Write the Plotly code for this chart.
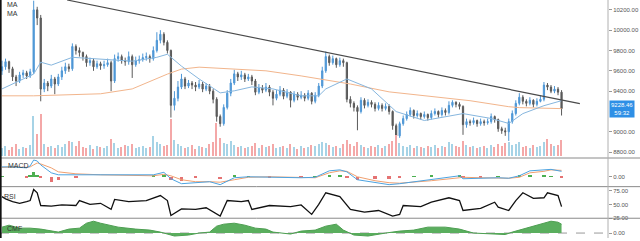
import plotly.graph_objects as go

# ---------------- data ----------------
first_open = 9600
closes = [
    9640, 9690, 9620, 9540, 9500, 9560, 9580, 9550, 9590, 10200,
    10120, 9420, 9480, 9450, 9520, 9470, 9540, 9600, 9640, 9620,
    9840, 9800, 9780, 9740, 9680, 9700, 9640, 9670, 9650, 9660,
    9680, 9500, 9720, 9740, 9700, 9690, 9740, 9660, 9700, 9710,
    9730, 9740, 9720, 9800, 9900, 9960, 9880, 9800, 9260, 9330,
    9440, 9520, 9450, 9480, 9460, 9440, 9470, 9420, 9450, 9400,
    9320, 9150, 9080, 9240, 9380, 9480, 9570, 9540, 9560, 9520,
    9540, 9500, 9390, 9430, 9410, 9440, 9390, 9330, 9370, 9410,
    9350, 9390, 9310, 9370, 9340, 9360, 9330, 9380, 9300, 9360,
    9450, 9600, 9740, 9680, 9720, 9660, 9700, 9680, 9320, 9280,
    9240, 9200, 9310, 9260, 9290, 9270, 9230, 9260, 9230, 9250,
    9200, 9060, 8960, 9080, 9130, 9170, 9210, 9160, 9180, 9150,
    9170, 9140, 9180, 9200, 9170, 9210, 9190, 9260, 9290, 9270,
    9250, 9070, 9100, 9090, 9110, 9080, 9100, 9090, 9100, 9150,
    9120, 9030, 9010, 9000, 9100, 9180, 9280, 9340, 9300, 9280,
    9310, 9270, 9300, 9320, 9460, 9440, 9400, 9420, 9390, 9228.46,
]
highs = [
    9700, 9720, 9700, 9640, 9560, 9590, 9610, 9600, 9620, 10290,
    10230, 10150, 9520, 9500, 9560, 9540, 9570, 9640, 9680, 9670,
    9870, 9860, 9830, 9790, 9760, 9730, 9720, 9700, 9690, 9700,
    9720, 9700, 9760, 9780, 9760, 9730, 9790, 9760, 9740, 9750,
    9770, 9780, 9760, 9840, 9980, 10000, 9980, 9900, 9810, 9400,
    9500, 9570, 9540, 9510, 9500, 9490, 9510, 9490, 9480, 9470,
    9420, 9340, 9170, 9270, 9410, 9520, 9610, 9590, 9600, 9580,
    9570, 9560, 9520, 9470, 9460, 9480, 9460, 9410, 9410, 9450,
    9430, 9420, 9400, 9400, 9390, 9400, 9380, 9410, 9390, 9390,
    9480, 9640, 9790, 9760, 9750, 9730, 9730, 9720, 9690, 9350,
    9300, 9260, 9340, 9330, 9320, 9310, 9290, 9290, 9280, 9280,
    9270, 9210, 9080, 9100, 9160, 9200, 9240, 9220, 9210, 9190,
    9200, 9180, 9210, 9230, 9210, 9240, 9230, 9300, 9310, 9300,
    9290, 9260, 9130, 9120, 9140, 9120, 9130, 9120, 9130, 9180,
    9160, 9130, 9050, 9040, 9130, 9210, 9310, 9380, 9360, 9320,
    9340, 9320, 9330, 9360, 9490, 9480, 9460, 9450, 9440, 9410,
]
lows = [
    9560, 9610, 9580, 9500, 9450, 9480, 9530, 9520, 9530, 9570,
    10050, 9300, 9390, 9400, 9430, 9370, 9450, 9510, 9570, 9590,
    9600, 9760, 9740, 9700, 9640, 9650, 9600, 9620, 9610, 9620,
    9640, 9400, 9480, 9690, 9670, 9650, 9660, 9530, 9640, 9670,
    9690, 9700, 9680, 9700, 9780, 9870, 9850, 9770, 9140, 9210,
    9300, 9420, 9420, 9430, 9420, 9400, 9420, 9390, 9400, 9370,
    9280, 9100, 9050, 9060, 9220, 9350, 9460, 9500, 9510, 9490,
    9500, 9460, 9360, 9370, 9380, 9390, 9350, 9260, 9310, 9350,
    9320, 9330, 9240, 9290, 9310, 9320, 9300, 9310, 9270, 9280,
    9340, 9430, 9580, 9650, 9660, 9630, 9640, 9640, 9290, 9240,
    9200, 9015, 9180, 9230, 9240, 9240, 9200, 9210, 9200, 9210,
    9170, 9020, 8890, 8940, 9060, 9110, 9150, 9130, 9140, 9120,
    9130, 9110, 9120, 9160, 9140, 9150, 9160, 9170, 9240, 9240,
    9220, 8970, 9040, 9060, 9070, 9050, 9060, 9060, 9070, 9080,
    9090, 9000, 8980, 8960, 8910, 9080, 9160, 9260, 9270, 9250,
    9260, 9240, 9250, 9290, 9300, 9410, 9380, 9380, 9360, 9160,
]
volumes = [
    8, 10, 6, 9, 12, 7, 9, 8, 11, 41,
    22, 43, 12, 9, 10, 8, 11, 9, 12, 15,
    14, 10, 15, 9, 8, 11, 7, 10, 9, 8,
    10, 17, 13, 8, 9, 11, 10, 12, 8, 9,
    10, 8, 9, 20, 14, 12, 10, 11, 38, 16,
    12, 10, 8, 9, 11, 7, 10, 9, 8, 12,
    14, 33, 18, 13, 12, 15, 11, 9, 10, 8,
    9, 10, 13, 8, 11, 9, 10, 12, 8, 9,
    10, 8, 12, 9, 7, 10, 8, 9, 11, 10,
    12, 14, 13, 11, 9, 10, 8, 12, 16, 12,
    10, 14, 11, 9, 8, 10, 9, 11, 8, 10,
    12, 15, 21, 13, 10, 9, 11, 8, 10, 9,
    8, 10, 9, 11, 8, 10, 9, 14, 12, 10,
    9, 15, 11, 9, 10, 8, 9, 10, 8, 11,
    9, 12, 10, 13, 14, 11, 12, 14, 9, 10,
    8, 11, 9, 10, 14, 17, 12, 10, 11, 16,
]

ma_fast_idx = [0, 9, 11, 14, 20, 28, 37, 44, 47, 51, 56, 62, 66, 71, 77, 85, 90, 92,
               98, 105, 112, 120, 126, 131, 139, 144, 148, 154, 159]
ma_fast_val = [9422, 9568, 9685, 9656, 9733, 9714, 9695, 9733, 9763, 9646, 9520, 9383,
               9403, 9442, 9422, 9354, 9354, 9422, 9520, 9422, 9199, 9111, 9150, 9179,
               9131, 9082, 9179, 9257, 9306]
ma_slow_idx = [0, 9, 28, 37, 47, 51, 56, 66, 75, 85, 90, 99, 110, 122, 133, 144, 147, 159]
ma_slow_val = [9354, 9354, 9374, 9422, 9568, 9617, 9636, 9617, 9600, 9550, 9520, 9470,
               9393, 9345, 9306, 9247, 9238, 9228]

trend_idx = [18.5, 164.2]
trend_price = [10297, 9277]

macd_idx = [0, 3, 7, 8, 9, 10, 11, 14, 16, 21, 28, 36, 43, 46, 48, 51, 55, 59, 62, 66,
            70, 76, 85, 89, 93, 96, 98, 101, 106, 110, 113, 117, 122, 130, 131, 136,
            141, 144, 147, 150, 154, 156, 159]
macd_line = [100, 100, 90, 110, 170, 160, 120, 40, 20, 20, 20, 15, 20, 45, -20, -70, -60,
             -50, -80, -10, 0, -5, -10, -5, 60, 70, 50, -30, -60, -80, -70, -50, -30, 10,
             -20, -15, -10, -15, 10, 60, 70, 75, 55]
macd_signal = [95, 100, 95, 100, 120, 140, 130, 90, 50, 30, 20, 15, 10, 25, 10, -30, -50,
               -50, -55, -30, -5, 0, -5, -10, 40, 60, 55, 0, -40, -60, -65, -55, -40, -10,
               -5, -10, -15, -15, -5, 40, 55, 70, 65]

rsi_idx = [0, 1, 3, 5, 7, 8, 9, 10, 11, 14, 17, 21, 22, 25, 28, 31, 32, 36, 41, 45, 47,
           48, 51, 55, 58, 60, 62, 64, 68, 70, 71, 76, 82, 85, 88, 90, 92, 96, 98, 99,
           103, 107, 111, 113, 114, 119, 122, 127, 130, 131, 136, 140, 141, 144, 146,
           148, 151, 154, 155, 157, 158, 159]
rsi_val = [64, 60, 55, 52, 55, 57, 77, 71, 48, 47, 49, 48, 57, 50, 52, 41, 59, 55, 57, 66,
           57, 30, 42, 41, 44, 36, 29, 57, 55, 57, 41, 48, 46, 49, 32, 50, 71, 64, 50, 41,
           36, 39, 29, 32, 48, 46, 54, 62, 57, 39, 43, 54, 45, 39, 57, 71, 61, 62, 71, 68,
           66, 46]

cmf_idx = [0, 2, 5, 8, 11, 14, 16, 19, 22, 24, 26, 28, 31, 33, 38, 42, 45, 47, 49, 53,
           56, 59, 61, 63, 66, 69, 72, 75, 77, 82, 85, 89, 92, 95, 97, 100, 104, 109,
           113, 117, 121, 126, 130, 134, 138, 143, 145, 148, 152, 156, 158, 159]
cmf_val = [0.06, 0.08, 0.05, 0.05, 0.04, 0.02, 0.01, 0.04, 0.05, 0.10, 0.12, 0.10, 0.08,
           0.06, 0.04, 0.03, 0.01, -0.01, -0.03, -0.02, 0.0, 0.01, 0.07, 0.09, 0.10, 0.08,
           0.05, 0.04, 0.01, -0.01, 0.02, 0.03, 0.07, 0.09, 0.03, -0.02, -0.03, 0.0, 0.02,
           0.03, 0.06, 0.06, 0.04, 0.0, -0.01, -0.015, 0.01, 0.04, 0.08, 0.12, 0.11, 0.09]

# 9200.00 is hidden behind the last-price tag in the reference
price_ticks = [8800, 9000, 9400, 9600, 9800, 10000, 10200]
rsi_ticks = [25, 50, 75]
last_price_text = "9228.46"
countdown_text = "59:32"

# ---------------- figure ----------------
n = len(closes)
idx = list(range(n))
opens = [first_open] + closes[:-1]
highs_c = [max(h, o, c) for h, o, c in zip(highs, opens, closes)]
lows_c = [min(l, o, c) for l, o, c in zip(lows, opens, closes)]
up = [c >= o for o, c in zip(opens, closes)]

UP = "#4e97d6"
DN = "#5a5a5a"
H = 241
def dom(top_px, bot_px):
    return [1 - bot_px / H, 1 - top_px / H]

XR = [-0.57, 172.2]
XD = [0, 608 / 640]

fig = go.Figure()

# volume
fig.add_trace(go.Bar(x=idx, y=volumes, yaxis="y2", width=0.4,
                     marker=dict(color=["#a6d3e6" if u else "#f4a8a8" for u in up], line_width=0)))
# candles
fig.add_trace(go.Candlestick(x=idx, open=opens, high=highs_c, low=lows_c, close=closes,
                             increasing=dict(line=dict(color=UP, width=1), fillcolor=UP),
                             decreasing=dict(line=dict(color=DN, width=1), fillcolor=DN),
                             whiskerwidth=0))
fig.add_trace(go.Scatter(x=ma_slow_idx, y=ma_slow_val, mode="lines",
                         line=dict(color="#f2b58c", width=1)))
fig.add_trace(go.Scatter(x=ma_fast_idx, y=ma_fast_val, mode="lines",
                         line=dict(color="#86b6de", width=1)))
fig.add_trace(go.Scatter(x=trend_idx, y=trend_price, mode="lines",
                         line=dict(color="#4a4a4a", width=1.2)))

# MACD
hist = [m - s for m, s in zip(macd_line, macd_signal)]
fig.add_trace(go.Bar(x=macd_idx, y=hist, yaxis="y3", width=1.0,
                     marker=dict(color=["#4caf50" if h >= 0 else "#e57373" for h in hist], line_width=0)))
fig.add_trace(go.Scatter(x=macd_idx, y=macd_signal, yaxis="y3", mode="lines",
                         line=dict(color="#f0a070", width=1)))
fig.add_trace(go.Scatter(x=macd_idx, y=macd_line, yaxis="y3", mode="lines",
                         line=dict(color="#4da3e0", width=1)))

# RSI
fig.add_trace(go.Scatter(x=rsi_idx, y=rsi_val, yaxis="y4", mode="lines",
                         line=dict(color="#111111", width=1.3)))

# CMF
fig.add_trace(go.Scatter(x=cmf_idx, y=cmf_val, yaxis="y5", mode="lines", fill="tozeroy",
                         fillcolor="#5aae5e", line=dict(color="#4e9e52", width=1)))

tickfont = dict(size=6, color="#555555", family="Liberation Sans, Arial")
common_y = dict(side="right", anchor="x", showgrid=False, zeroline=False, ticks="outside",
                ticklen=3, tickcolor="#999999", tickfont=tickfont, showline=False)

fig.update_layout(
    width=640, height=241, margin=dict(l=0, r=0, t=0, b=0),
    paper_bgcolor="white", plot_bgcolor="white", showlegend=False,
    xaxis=dict(domain=XD, range=XR, visible=False, rangeslider=dict(visible=False)),
    yaxis=dict(domain=dom(0, 160), range=[8742, 10297], tickvals=price_ticks,
               ticktext=[f"{v:.2f}" for v in price_ticks], **common_y),
    yaxis2=dict(overlaying="y", range=[-2, 158], visible=False),
    yaxis3=dict(domain=dom(160, 189), range=[-100, 190], tickvals=[0], ticktext=["0.00"], **common_y),
    yaxis4=dict(domain=dom(189, 221), range=[25, 82.1], tickvals=rsi_ticks,
                ticktext=[f"{v:.2f}" for v in rsi_ticks], **common_y),
    yaxis5=dict(domain=dom(221, 241), range=[-0.05, 0.15], tickvals=[0], ticktext=["0.00"], **common_y),
    bargap=0, boxgap=0.5,
)

shapes = []
for ypx in (160, 189, 221):
    shapes.append(dict(type="line", xref="paper", yref="paper", x0=0, x1=1,
                       y0=1 - ypx / H, y1=1 - ypx / H, line=dict(color="#8a8a8a", width=1)))
shapes.append(dict(type="line", xref="paper", yref="paper", x0=608 / 640, x1=608 / 640,
                   y0=0, y1=1, line=dict(color="#b0b0b0", width=1)))
shapes.append(dict(type="line", xref="paper", yref="paper", x0=0.001, x1=0.001,
                   y0=0, y1=1, line=dict(color="#111111", width=2)))
shapes.append(dict(type="line", xref="paper", yref="y5", x0=0, x1=608 / 640, y0=0, y1=0,
                   line=dict(color="#999999", width=1, dash="dash"), layer="below"))
fig.update_layout(shapes=shapes)

lab = dict(size=7, color="#333333", family="Liberation Sans, Arial")
ann = [
    dict(x=5 / 640, y=1 - 5 / H, text="MA"),
    dict(x=5 / 640, y=1 - 14 / H, text="MA"),
    dict(x=6 / 640, y=1 - 168 / H, text="MACD"),
    dict(x=2 / 640, y=1 - 199 / H, text="RSI"),
    dict(x=5 / 640, y=1 - 231 / H, text="CMF"),
]
annotations = [dict(xref="paper", yref="paper", xanchor="left", yanchor="middle",
                    showarrow=False, font=lab, **a) for a in ann]
annotations.append(dict(xref="paper", yref="y", x=609 / 640, y=closes[-1], xanchor="left",
                        yanchor="middle", showarrow=False,
                        text=f"{last_price_text}<br>{countdown_text}",
                        bgcolor="#2e8fe6", borderpad=1, align="center",
                        font=dict(size=6, color="white", family="Liberation Sans, Arial")))
fig.update_layout(annotations=annotations)

fig.write_html("out.html", config={"displayModeBar": False})
